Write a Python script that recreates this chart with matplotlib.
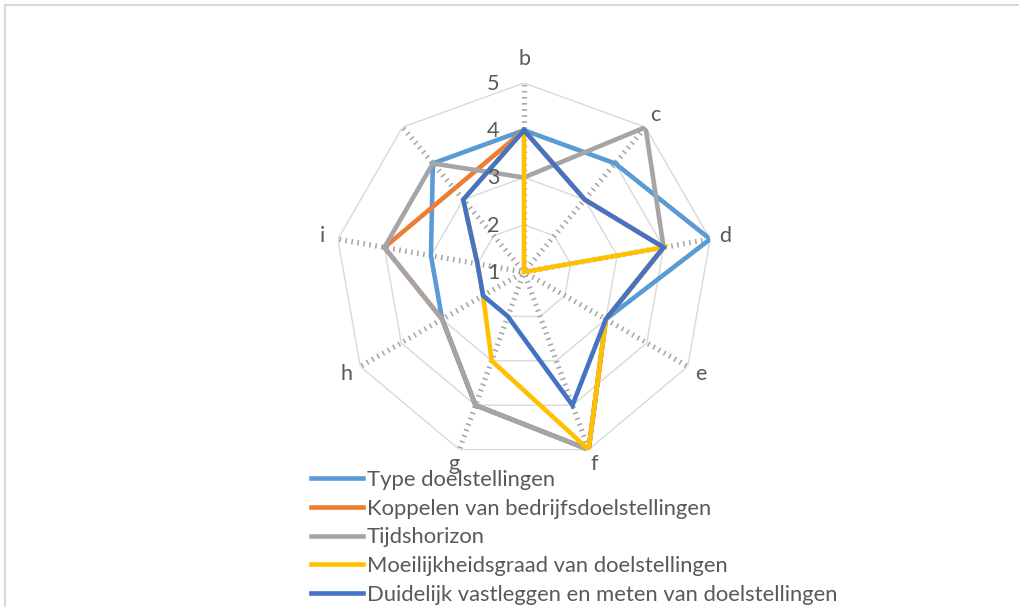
import numpy as np
import matplotlib
matplotlib.use("Agg")
import matplotlib.pyplot as plt
from matplotlib.patches import Rectangle

plt.rcParams['font.family'] = ['Lato', 'DejaVu Sans']

categories = ['b', 'c', 'd', 'e', 'f', 'g', 'h', 'i', '']
series_names = ['Type doelstellingen',
                'Koppelen van bedrijfsdoelstellingen',
                'Tijdshorizon',
                'Moeilijkheidsgraad van doelstellingen',
                'Duidelijk vastleggen en meten van doelstellingen']
type_doel = [4, 4, 5, 3, 5, 4, 3, 3, 4]
koppelen = [4, 3, 4, 3, 5, 4, 3, 4, np.nan]
tijdshorizon = [3, 5, 4, 3, 5, 4, 3, 4, 4]
moeilijkheid = [4, 1, 4, 3, 5, 3, 2, 2, 3]
duidelijk = [4, 3, 4, 3, 4, 2, 2, 2, 3]
colors = ['#5B9BD5', '#ED7D31', '#A5A5A5', '#FFC000', '#4472C4']
r_ticks = [1, 2, 3, 4, 5]

W, H = 1019, 607
fig = plt.figure(figsize=(W / 100, H / 100), dpi=100)

# chart area border
fig.patches.append(Rectangle((5 / W, -0.1), 1.2, 1.1 - 5 / H, transform=fig.transFigure,
                             fill=False, edgecolor='#D9D9D9', lw=1.5))

cx, cy, R = 524, 272, 189
ax = fig.add_axes([(cx - R) / W, (H - cy - R) / H, 2 * R / W, 2 * R / H], projection='polar')
ax.set_theta_offset(np.pi / 2)
ax.set_theta_direction(-1)
ax.set_ylim(1, 5)
ax.grid(False)
ax.spines['polar'].set_visible(False)
ax.set_xticks([])
ax.set_yticks([])
ax.patch.set_alpha(0)

n = len(categories)
angles = np.arange(n) * 2 * np.pi / n

# polygon rings
for v in r_ticks[1:]:
    ax.plot(np.append(angles, angles[0]), [v] * (n + 1), color='#D9D9D9', lw=1.0, zorder=1)
# dotted spokes
for a in angles:
    ax.plot([a, a], [1.08, 5], color='#A6A6A6', lw=3.8, dashes=(0.3, 0.85), zorder=1)

data = [type_doel, koppelen, tijdshorizon, moeilijkheid, duidelijk]
for name, vals, col in zip(series_names, data, colors):
    vals = np.array(vals, dtype=float)
    ok = ~np.isnan(vals)
    th = angles[ok]
    rv = vals[ok]
    ax.plot(np.append(th, th[0]), np.append(rv, rv[0]), color=col, lw=3.3,
            solid_joinstyle='miter', label=name, zorder=3)

# category labels
for a, lab in zip(angles, categories):
    rr = 5.5 if lab == 'b' else 5.33
    ax.text(a, rr, lab, ha='center', va='center', fontsize=15.5, color='#595959')

# radial value labels
for v in r_ticks:
    ax.annotate(str(v), xy=(0, v), xytext=(-31, -1), textcoords='offset pixels',
                ha='center', va='center', fontsize=15.5, color='#595959', zorder=4)

fig.legend(loc='upper left', bbox_to_anchor=(300 / W, 1 - 459 / H), frameon=False,
           fontsize=15.8, handlelength=2.35, handletextpad=0.2, labelspacing=0.395,
           borderpad=0, labelcolor='#595959')

fig.savefig('out.png', dpi=100)
